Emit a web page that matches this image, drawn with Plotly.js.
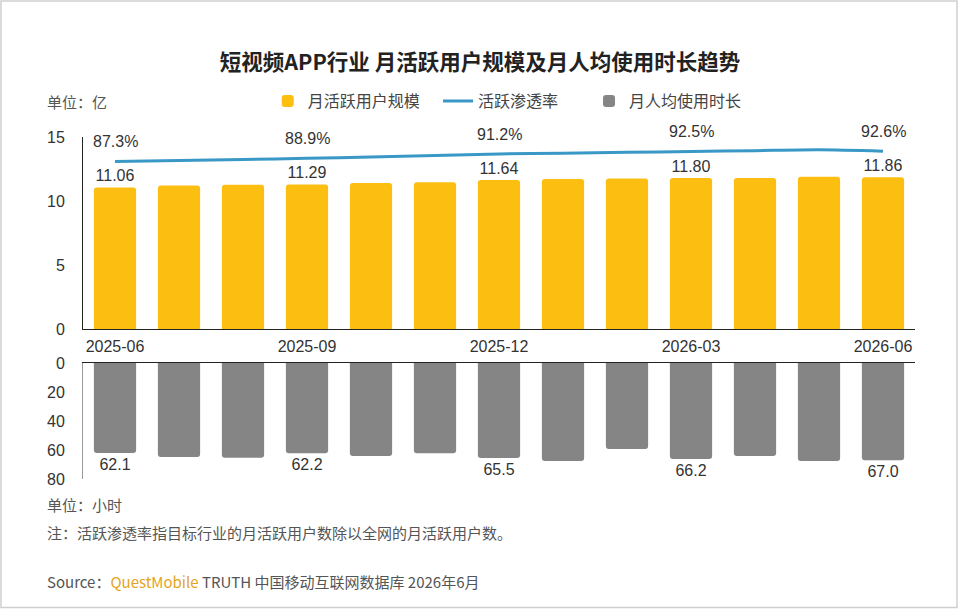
<!DOCTYPE html>
<html>
<head>
<meta charset="utf-8">
<script src="https://cdn.plot.ly/plotly-3.0.1.min.js"></script>
<style>
  html, body { margin: 0; padding: 0; background: #fff; }
  #chart { width: 960px; height: 610px; }
</style>
</head>
<body>
<div id="chart"></div>
<script>
// months on the x axis
var months = ['2025-06', '2025-07', '2025-08', '2025-09', '2025-10', '2025-11', '2025-12',
              '2026-01', '2026-02', '2026-03', '2026-04', '2026-05', '2026-06'];
var tickMonths = ['2025-06', '2025-09', '2025-12', '2026-03', '2026-06'];

// 月活跃用户规模 (亿)
var mauValues = [11.06, 11.22, 11.27, 11.29, 11.40, 11.47, 11.64, 11.72, 11.76, 11.80, 11.80, 11.89, 11.86];
// 活跃渗透率 (%)
var penetration = [87.3, 87.8, 88.3, 88.9, 89.6, 90.4, 91.2, 91.6, 92.0, 92.5, 92.9, 93.3, 92.6];
// 月人均使用时长 (小时)
var hoursValues = [62.1, 64.9, 65.3, 62.2, 64.2, 62.3, 65.5, 67.6, 59.3, 66.2, 64.2, 67.6, 67.0];

// only every third month carries a value label
var labelIdx = [0, 3, 6, 9, 12];

var CN = '"Noto Sans CJK SC", "Noto Sans", sans-serif';
var NUM = '"Liberation Sans", Arial, sans-serif';

function labelsFor(values, fmt) {
  return values.map(function(v, i) {
    return labelIdx.indexOf(i) >= 0 ? fmt(v) : '';
  });
}

var mauTrace = {
  type: 'bar',
  name: '月活跃用户规模',
  legend: 'legend',
  x: months,
  y: mauValues,
  xaxis: 'x',
  yaxis: 'y',
  marker: { color: '#FDBE12', cornerradius: 3 },
  text: labelsFor(mauValues, function(v) { return v.toFixed(2); }),
  textposition: 'outside',
  textfont: { family: NUM, size: 16, color: '#333' },
  cliponaxis: false,
  hoverinfo: 'x+y'
};

var rateTrace = {
  type: 'scatter',
  mode: 'lines',
  name: '活跃渗透率',
  legend: 'legend2',
  x: months,
  y: penetration,
  xaxis: 'x',
  yaxis: 'y3',
  line: { color: '#3A98C6', width: 3, shape: 'spline', smoothing: 0.8 },
  hoverinfo: 'x+y'
};

var hoursTrace = {
  type: 'bar',
  name: '月人均使用时长',
  legend: 'legend3',
  x: months,
  y: hoursValues,
  xaxis: 'x2',
  yaxis: 'y2',
  marker: { color: '#858585', cornerradius: 3 },
  text: labelsFor(hoursValues, function(v) { return v.toFixed(1); }),
  textposition: 'outside',
  textfont: { family: NUM, size: 16, color: '#333' },
  cliponaxis: false,
  hoverinfo: 'x+y'
};

var data = [mauTrace, rateTrace, hoursTrace];

// percentage labels above the line
var rateLabels = labelIdx.map(function(i) {
  return {
    xref: 'x', yref: 'y3',
    x: months[i], y: penetration[i],
    text: penetration[i].toFixed(1) + '%',
    showarrow: false,
    yanchor: 'bottom',
    yshift: 9,
    font: { family: NUM, size: 16, color: '#333' }
  };
});

var textNotes = [
  { x: -0.046, y: 1.105, text: '单位：亿' },
  { x: -0.046, y: -0.076, text: '单位：小时' },
  { x: -0.046, y: -0.155, text: '注：活跃渗透率指目标行业的月活跃用户数除以全网的月活跃用户数。' },
  { x: -0.046, y: -0.301,
    text: 'Source：<span style="color:#E3A521">QuestMobile</span> TRUTH 中国移动互联网数据库 2026年6月' }
].map(function(n) {
  return {
    xref: 'paper', yref: 'paper',
    x: n.x, y: n.y,
    xanchor: 'left', yanchor: 'middle',
    text: n.text,
    showarrow: false,
    font: { family: CN, size: 15, color: '#555' }
  };
});

function legendAt(x) {
  return {
    orientation: 'h',
    x: x, xanchor: 'left',
    y: 1.105, yanchor: 'middle',
    font: { family: CN, size: 16, color: '#444' },
    bgcolor: 'rgba(0,0,0,0)'
  };
}

var layout = {
  width: 960,
  height: 610,
  margin: { l: 83, r: 45, t: 137, b: 131 },
  paper_bgcolor: '#fff',
  plot_bgcolor: 'rgba(0,0,0,0)',
  bargap: 0.34,
  showlegend: true,
  title: {
    text: '<b>短视频APP行业 月活跃用户规模及月人均使用时长趋势</b>',
    x: 0.5, xref: 'container',
    y: 0.898, yref: 'container', yanchor: 'middle',
    font: { family: CN, size: 21.5, color: '#222' }
  },
  legend: legendAt(0.222),
  legend2: legendAt(0.4267),
  legend3: legendAt(0.6082),
  xaxis: {
    type: 'category',
    anchor: 'y',
    domain: [0, 1],
    tickvals: tickMonths,
    ticktext: tickMonths,
    ticks: '',
    ticklabelstandoff: 3,
    showline: true,
    linecolor: '#222',
    linewidth: 1,
    showgrid: false,
    zeroline: false,
    tickfont: { family: NUM, size: 16, color: '#333' }
  },
  yaxis: {
    domain: [0.4386, 1],
    range: [0, 15],
    dtick: 5,
    ticks: '',
    ticklabelstandoff: 14,
    showline: true,
    linecolor: '#222',
    linewidth: 1,
    showgrid: false,
    zeroline: false,
    tickfont: { family: NUM, size: 16, color: '#333' }
  },
  yaxis3: {
    overlaying: 'y',
    range: [0, 100],
    visible: false
  },
  xaxis2: {
    type: 'category',
    anchor: 'y2',
    matches: 'x',
    side: 'top',
    showticklabels: false,
    ticks: '',
    showline: true,
    linecolor: '#222',
    linewidth: 1,
    showgrid: false,
    zeroline: false
  },
  yaxis2: {
    domain: [0, 0.3392],
    range: [80, 0],
    tickvals: [0, 20, 40, 60, 80],
    ticks: '',
    ticklabelstandoff: 14,
    showline: true,
    linecolor: '#999',
    linewidth: 1,
    showgrid: false,
    zeroline: false,
    tickfont: { family: NUM, size: 16, color: '#333' }
  },
  annotations: rateLabels.concat(textNotes),
  shapes: [{
    type: 'rect', xref: 'paper', yref: 'paper',
    x0: -0.0986, x1: 1.0505, y0: -0.3757, y1: 1.3977,
    line: { color: '#cfcfcf', width: 1.5 },
    layer: 'below'
  }]
};

Plotly.newPlot('chart', data, layout, { displayModeBar: false, staticPlot: true });
</script>
</body>
</html>
